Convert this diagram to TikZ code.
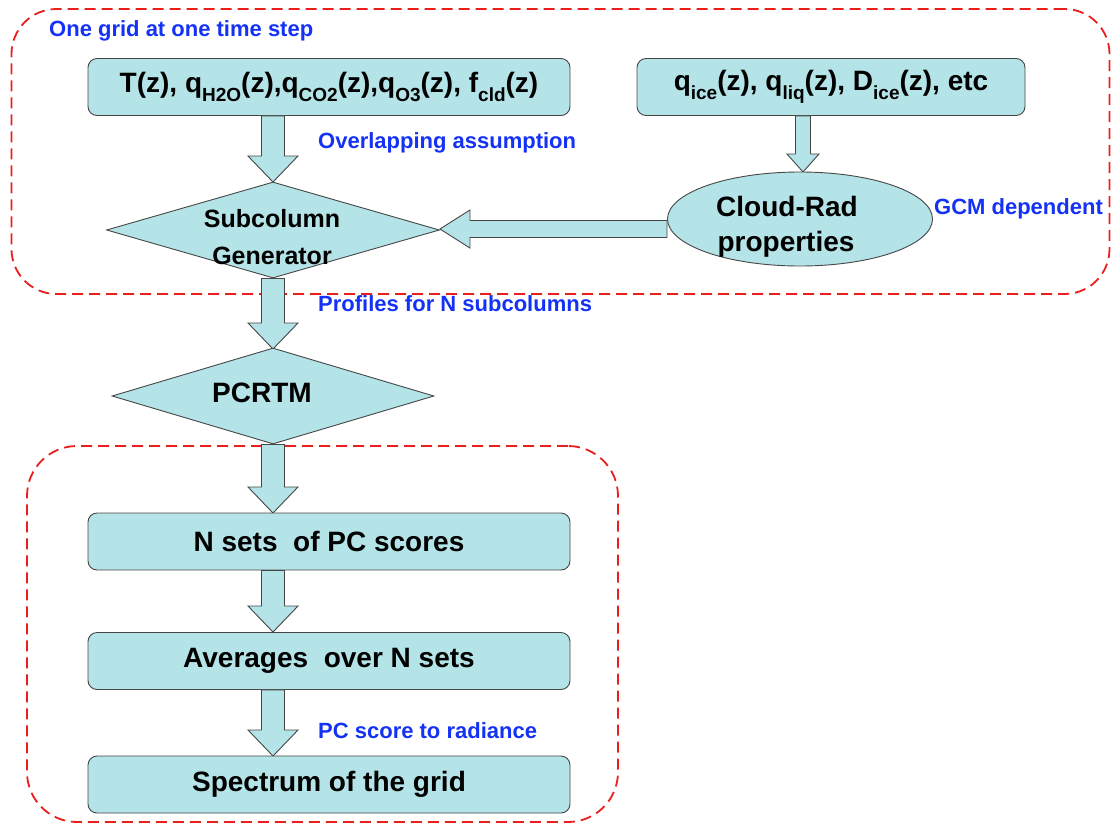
\documentclass[tikz,border=0pt]{standalone}
\usepackage{fontspec}
\setmainfont{Liberation Sans}
\usetikzlibrary{shapes.geometric,calc}
\definecolor{boxfill}{RGB}{180,228,231}
\definecolor{boxline}{RGB}{70,70,70}
\definecolor{lblue}{RGB}{20,50,245}
\definecolor{dred}{RGB}{235,30,30}
\newcommand\lowsub[1]{\raisebox{-0.3em}{\fontsize{19}{19}\selectfont #1}}
\newcommand\fatv[5]{\filldraw[fatarrow] let \p1=(#1),\p2=(#2) in
  (\x1-#3,\y1) -- (\x1+#3,\y1) -- (\x1+#3,\y2+#5) -- (\x1+#4,\y2+#5) -- (\x1,\y2)
  -- (\x1-#4,\y2+#5) -- (\x1-#3,\y2+#5) -- cycle;}
\newcommand\fath[5]{\filldraw[fatarrow] let \p1=(#1),\p2=(#2) in
  (\x1,\y1-#3) -- (\x2+#5,\y1-#3) -- (\x2+#5,\y1-#4) -- (\x2,\y1)
  -- (\x2+#5,\y1+#4) -- (\x2+#5,\y1+#3) -- (\x1,\y1+#3) -- cycle;}
\begin{document}
\begin{tikzpicture}[x=1pt,y=-1pt,
  flowbox/.style={draw=boxline,fill=boxfill,rounded corners=9pt,line width=0.9pt,
    minimum height=57pt,inner sep=0pt,font=\fontsize{28}{30}\selectfont\bfseries},
  shapefill/.style={draw=boxline,fill=boxfill,line width=0.9pt,inner sep=0pt},
  fatarrow/.style={draw=boxline,fill=boxfill,line width=0.9pt},
  blk/.style={inner sep=0pt,font=\fontsize{28}{30}\selectfont\bfseries},
  lbl/.style={inner sep=0pt,anchor=west,text=lblue,font=\fontsize{22}{24}\selectfont\bfseries},
  group/.style={draw=dred,dash pattern=on 11pt off 6pt,line width=1.8pt,rounded corners=45pt,inner sep=0pt}]
\useasboundingbox (0,0) rectangle (1112,828);
% group frames
\node[group,minimum width=1098pt,minimum height=285pt] (g1) at (560.5,151.5) {};
% nodes
\node[flowbox,minimum width=482pt] (b1) at (329,87)
  {T(z), q\lowsub{H2O}(z),q\lowsub{CO2}(z),q\lowsub{O3}(z), f\lowsub{cld}(z)};
\node[flowbox,minimum width=388pt] (b2) at (831,87)
  {q\lowsub{ice}(z), q\lowsub{liq}(z), D\lowsub{ice}(z), etc};
\coordinate (c1) at (273,182);
\coordinate (c2) at (273,349);
\coordinate (c3) at (273,513);
\coordinate (c4) at (273,632);
\coordinate (c5) at (273,756);
\coordinate (e1) at (803,172);
% arrows
\fatv{b1.south -| c1}{c1}{11.5pt}{25pt}{26pt}
\fatv{b2.south -| e1}{e1}{7.5pt}{16pt}{18pt}
\node[shapefill,diamond,minimum width=333pt,minimum height=96pt,aspect=3.47] (d1) at (273,230) {};
\node[shapefill,ellipse,minimum width=265pt,minimum height=94pt] (el) at (800,219) {};
\coordinate (hs) at (667,229);
\fath{hs}{d1.east}{8.5pt}{19pt}{30pt}
\node[blk,font=\fontsize{25}{27}\selectfont\bfseries] (t1) at (272,219) {Subcolumn};
\node[blk,font=\fontsize{25}{27}\selectfont\bfseries] (t2) at (272,256) {Generator};
\node[blk] (t3) at (787,206) {Cloud-Rad};
\node[blk] (t4) at (786,244) {properties};
\fatv{d1.south}{c2}{11.5pt}{25pt}{26pt}
\node[shapefill,diamond,minimum width=322pt,minimum height=96pt,aspect=3.35] (d2) at (273,396) {};
\node[blk] (t5) at (262,393) {PCRTM};
\node[group,minimum width=591pt,minimum height=376pt,rounded corners=50pt] (g2) at (322.5,634) {};
\fatv{d2.south}{c3}{11.5pt}{25pt}{26pt}
\node[flowbox,minimum width=482pt] (b3) at (329,541.5) {N sets\ \ of PC scores};
\fatv{b3.south -| c4}{c4}{11.5pt}{25pt}{26pt}
\node[flowbox,minimum width=482pt] (b4) at (329,661) {Averages\ \ over N sets};
\fatv{b4.south -| c5}{c5}{11.5pt}{25pt}{26pt}
\node[flowbox,minimum width=482pt] (b5) at (329,784.5) {Spectrum of the grid};
% labels
\node[lbl] (l0) at (49,31) {One grid at one time step};
\node[lbl] (l1) at (318,143) {Overlapping assumption};
\node[lbl] (l2) at (318,304) {Profiles for N subcolumns};
\node[lbl] (l3) at (318,731) {PC score to radiance};
\node[lbl] (l4) at (934,209) {GCM dependent};
\end{tikzpicture}
\end{document}
